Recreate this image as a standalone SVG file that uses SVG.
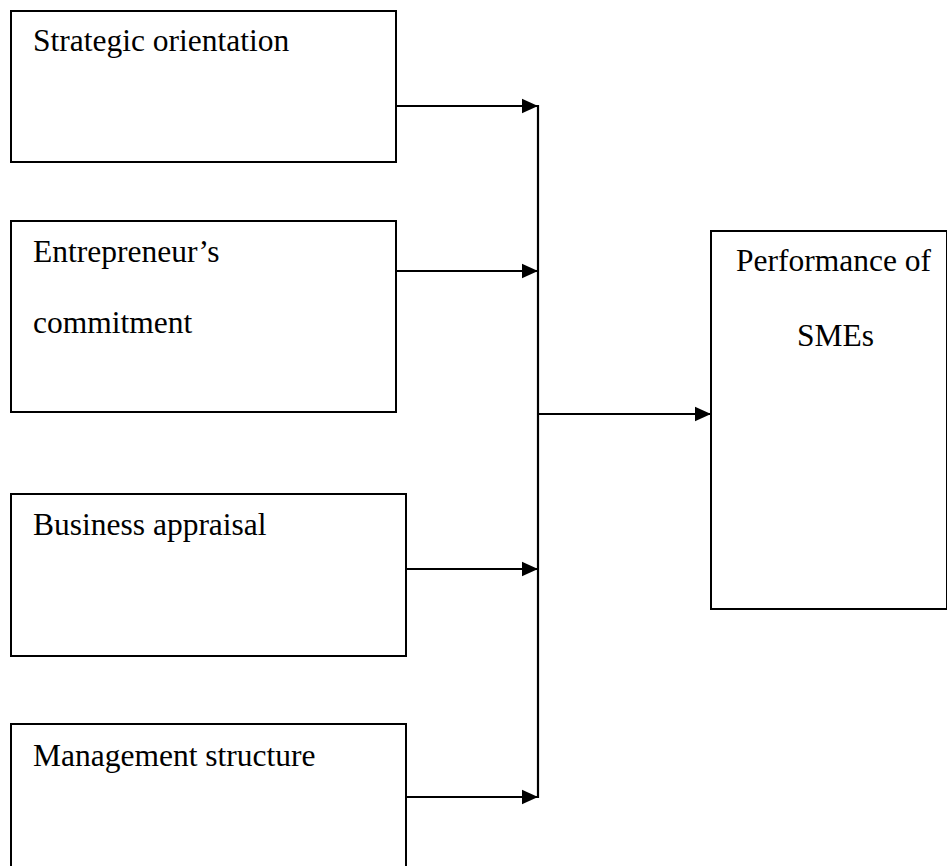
<svg xmlns="http://www.w3.org/2000/svg" width="947" height="866" viewBox="0 0 947 866">
<defs>
<style>
.box{fill:#fff;stroke:#000;stroke-width:2}
.lbl{font-family:"Liberation Serif","Times New Roman",serif;font-size:31.5px;fill:#000}
.con{stroke:#000;stroke-width:2.2;fill:none}
</style>
<marker id="ah" viewBox="0 0 10 10" refX="10" refY="5" markerWidth="7.5" markerHeight="7.5" markerUnits="strokeWidth" orient="auto">
<path d="M0,0.5 L10,5 L0,9.5 Z" fill="#000"/>
</marker>
</defs>
<rect width="947" height="866" fill="#fff"/>
<g id="n1"><rect class="box" x="11" y="11" width="385" height="151"/><text class="lbl" x="33" y="51">Strategic orientation</text></g>
<g id="n2"><rect class="box" x="11" y="221" width="385" height="191"/><text class="lbl" x="33" y="262">Entrepreneur’s</text><text class="lbl" x="33" y="333">commitment</text></g>
<g id="n3"><rect class="box" x="11" y="494" width="395" height="162"/><text class="lbl" x="33" y="535">Business appraisal</text></g>
<g id="n4"><rect class="box" x="11" y="724" width="395" height="150"/><text class="lbl" x="33" y="766">Management structure</text></g>
<g id="n5"><rect class="box" x="711" y="231" width="236" height="378"/><text class="lbl" x="736" y="271">Performance of</text><text class="lbl" x="797" y="346">SMEs</text></g>
<g id="connectors">
<line class="con" x1="396" y1="106" x2="538" y2="106" marker-end="url(#ah)"/>
<line class="con" x1="396" y1="271" x2="538" y2="271" marker-end="url(#ah)"/>
<line class="con" x1="406" y1="569" x2="538" y2="569" marker-end="url(#ah)"/>
<line class="con" x1="406" y1="797" x2="538" y2="797" marker-end="url(#ah)"/>
<line class="con" x1="538" y1="105" x2="538" y2="798"/>
<line class="con" x1="538" y1="414" x2="711" y2="414" marker-end="url(#ah)"/>
</g>
</svg>
